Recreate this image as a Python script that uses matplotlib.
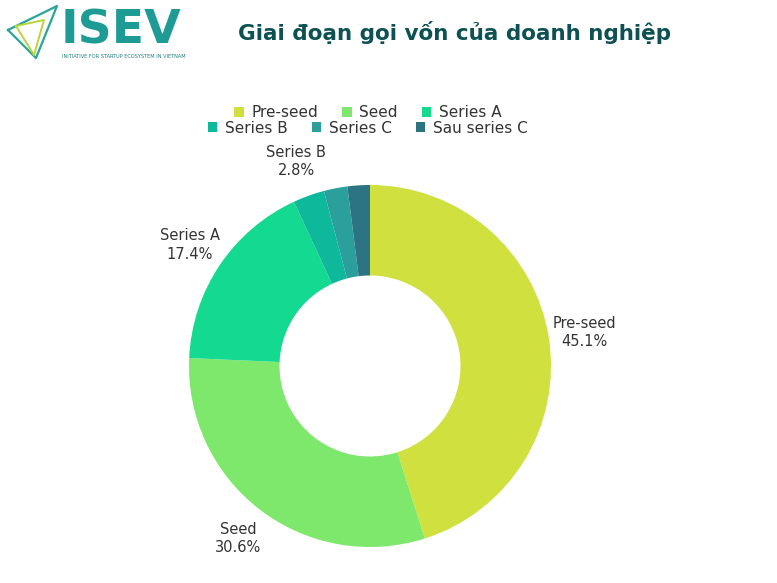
import numpy as np
import matplotlib.pyplot as plt
from matplotlib.patches import Patch

labels = ['Pre-seed', 'Seed', 'Series A', 'Series B', 'Series C', 'Sau series C']
values = [45.1, 30.6, 17.4, 2.8, 2.1, 2.0]
colors = ['#cfe03f', '#7ee86c', '#14d991', '#0db89b', '#2a9f9b', '#2c7483']
shown = ['Pre-seed', 'Seed', 'Series A', 'Series B']

W, H = 777, 583
fig = plt.figure(figsize=(W / 100, H / 100), dpi=100)
fig.patch.set_facecolor('white')

# pie axes: centre (370, 366) px, outer radius 181 px
cx, cy, R = 370, 366, 181
ax = fig.add_axes([(cx - R) / W, 1 - (cy + R) / H, 2 * R / W, 2 * R / H])

wedges, _ = ax.pie(values, colors=colors, startangle=90, counterclock=False,
                   radius=1, wedgeprops=dict(width=0.5, linewidth=0))
# pie() sets its own limits, so reset them afterwards
ax.set_xlim(-1, 1)
ax.set_ylim(-1, 1)
ax.set_aspect('equal')
ax.axis('off')

total = sum(values)
start = 90.0
for lab, v in zip(labels, values):
    span = v / total * 360
    mid = np.deg2rad(start - span / 2)
    start -= span
    if lab in shown:
        r = 1.2
        ax.text(r * np.cos(mid), r * np.sin(mid), f'{lab}\n{v:.1f}%',
                ha='center', va='center', fontsize=10.5, color='#333333',
                linespacing=1.3)

# legend, two centred rows
handles = [Patch(facecolor=c, edgecolor='none') for c in colors]
for row, yy in ((0, 113), (1, 128)):
    idx = range(row * 3, row * 3 + 3)
    fig.legend([handles[i] for i in idx], [labels[i] for i in idx],
               loc='center', bbox_to_anchor=(368 / W, 1 - yy / H), ncol=3,
               frameon=False, fontsize=11, handlelength=0.6, handleheight=0.6,
               handletextpad=0.5, columnspacing=1.6, borderpad=0, labelcolor='#333333')

# title
fig.text(455 / W, 1 - 32 / H, 'Giai đoạn gọi vốn của doanh nghiệp', ha='center', va='center',
         fontsize=15.5, fontweight='heavy', color='#0e5153')

# logo
lax = fig.add_axes([0, 1 - 70 / H, 200 / W, 70 / H])
lax.set_xlim(0, 200)
lax.set_ylim(70, 0)
lax.axis('off')
lax.plot([8, 57, 36, 8], [30, 6, 58, 30], color='#2aa59a', lw=1.6)
lax.plot([16, 44, 34, 16], [26, 20, 55, 26], color='#b9d43c', lw=1.4)
lax.text(61, 31, 'ISEV', fontsize=34, fontweight='bold', color='#1f9b95',
         ha='left', va='center')
lax.text(62, 56, 'INITIATIVE FOR STARTUP ECOSYSTEM IN VIETNAM', fontsize=3.6,
         color='#1f7f7a', ha='left', va='center')

fig.savefig('out.png', dpi=100, facecolor='white')
